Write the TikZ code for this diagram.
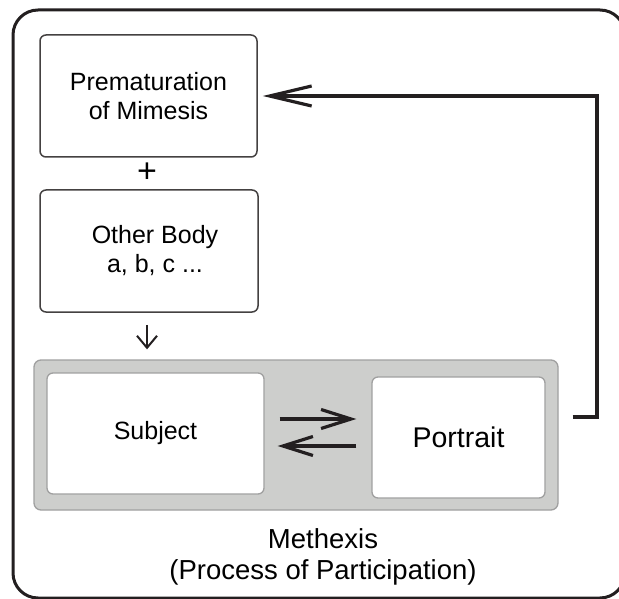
\documentclass[tikz,border=0pt]{standalone}
\usepackage{fontspec}
\setmainfont{Liberation Sans}
\usepackage{xcolor}
\usepackage{tikz}
\usetikzlibrary{arrows.meta,positioning,calc}

\definecolor{ink}{RGB}{35,31,32}
\definecolor{panel}{RGB}{205,206,204}
\definecolor{rim}{RGB}{160,160,160}

\begin{document}
\begin{tikzpicture}[x=1pt,y=-1pt,
    frame/.style={draw=ink,line width=3pt,rounded corners=25pt},
    box/.style={draw=ink!85,line width=1.5pt,rounded corners=6pt,fill=white,
      align=center,inner sep=0pt,font=\fontsize{25}{29}\selectfont},
    inbox/.style={draw=rim,line width=1.3pt,rounded corners=6pt,fill=white,
      align=center,inner sep=0pt},
    panelbox/.style={draw=rim,line width=1.3pt,fill=panel,rounded corners=7pt,inner sep=0pt},
    pair/.style={draw=ink,line width=3.2pt,-{Straight Barb[length=30pt,width=19pt]}},
    feedback/.style={draw=ink,line width=3.2pt,-{Straight Barb[length=42pt,width=20pt]}}]
  \useasboundingbox (0,0) rectangle (619,599);

  % --- outer frame ---
  \draw[frame] (13,10) rectangle (625,598);

  % --- left column ---
  \node[box,minimum width=217pt,minimum height=122pt] (premat) at (148.5,96)
    {Prematuration\\of Mimesis};
  \node[font=\fontsize{34}{36}\selectfont] (plus) at (147,173) {+};
  \node[box,minimum width=218pt,minimum height=122pt] (other) at (149,251)
    {\hspace*{12pt}Other Body\\\hspace*{12pt}a, b, c ...};

  % --- participation panel ---
  \node[panelbox,minimum width=524pt,minimum height=150pt] (group) at (296,435) {};
  \node[inbox,minimum width=217pt,minimum height=121pt,
        font=\fontsize{25}{29}\selectfont] (subject) at (155.5,433.5) {Subject};
  \node[inbox,minimum width=173pt,minimum height=121pt,
        font=\fontsize{28.5}{32}\selectfont] (portrait) at (458.5,437.5) {Portrait};
  \node[align=center,font=\fontsize{27.5}{31}\selectfont] (methexis) at (323,557)
    {Methexis\\(Process of Participation)};

  % --- connectors ---
  \draw[draw=ink,line width=2pt,-{Straight Barb[length=12pt,width=20pt]},
        shorten <=12pt,shorten >=10pt] ([xshift=-2pt]other.south) -- ([xshift=-2pt]other.south |- group.north);
  \draw[pair,shorten <=15pt,shorten >=15pt]
    ([yshift=14.5pt]subject.east) -- ([yshift=14.5pt]subject.east -| portrait.west);
  \draw[pair,shorten <=15pt,shorten >=13pt]
    ([yshift=-12.5pt]subject.east -| portrait.west) -- ([yshift=-12.5pt]subject.east);
  \coordinate (loop) at (597,417);
  \draw[feedback,shorten >=5pt] ($(group.east)+(14,-18)$) -- (loop) |- (premat.east);
\end{tikzpicture}
\end{document}
